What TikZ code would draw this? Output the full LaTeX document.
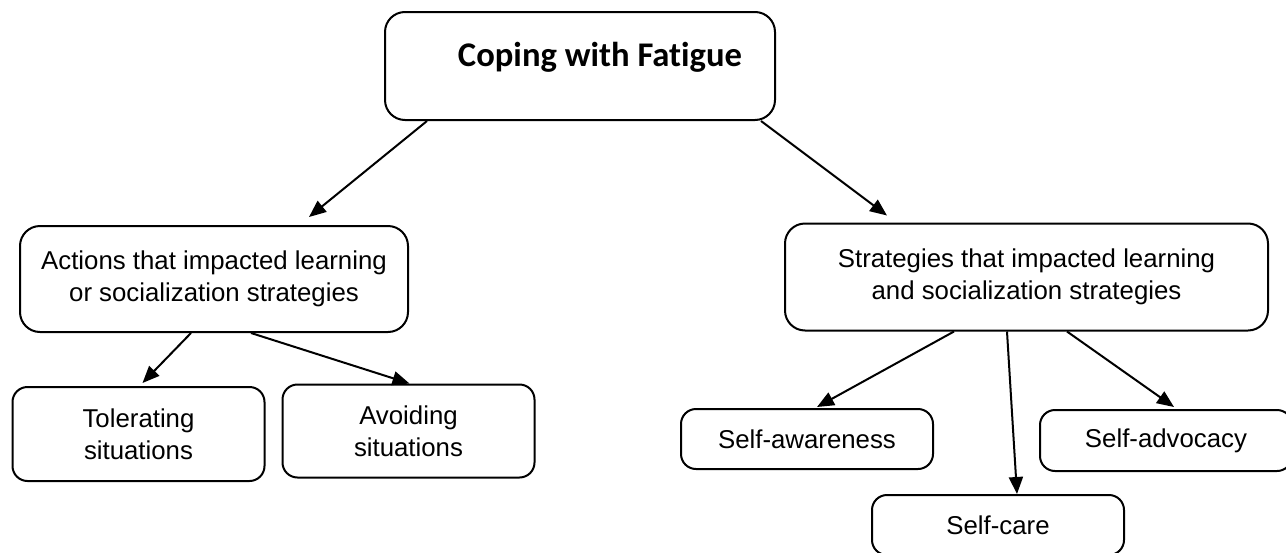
\documentclass[tikz,border=0pt]{standalone}
\usepackage{fontspec}
\setmainfont{Liberation Sans}
\newfontfamily\titlefamily[Ligatures={NoCommon}]{Carlito}
\usetikzlibrary{arrows.meta}
\begin{document}
\begin{tikzpicture}[x=1pt,y=-1pt,
  box/.style={draw=black, line width=2pt, rounded corners=20pt, align=center,
    font=\fontsize{25.8}{32}\selectfont, inner sep=0pt},
  smallbox/.style={box, rounded corners=15pt, minimum width=252pt},
  titletext/.style={font=\titlefamily\bfseries\fontsize{34.6}{40}\selectfont},
  arr/.style={line width=2pt, -{Triangle[length=17pt,width=14pt]}}]
\useasboundingbox (0,0) rectangle (1286,552);

% top level
\node[box, minimum width=390pt, minimum height=108pt,
  label={[titletext, xshift=20pt, yshift=9pt]center:Coping with Fatigue}] (top) at (580,66) {};

% second level
\node[box, minimum width=388pt, minimum height=106pt] (actions) at (214,279)
  {Actions that impacted learning\\or socialization strategies};
\node[box, minimum width=483pt, minimum height=107pt] (strategies) at (1026.5,277)
  {Strategies that impacted learning\\and socialization strategies};

% leaves under the actions
\node[smallbox, minimum height=94pt] (tol) at (138.5,434)
  {Tolerating\\situations};
\node[smallbox, minimum height=93pt] (avo) at (408.5,431)
  {Avoiding\\situations};

% leaves under the strategies
\node[smallbox, minimum height=60pt] (saw) at (807,439)
  {Self-awareness};
\node[smallbox, minimum height=61pt] (sad) at (1166,440.5)
  {Self-advocacy};
\node[smallbox, minimum height=60pt] (sca) at (998,525)
  {Self-care};

% connectors
\draw[arr] ([xshift=43pt]top.south west) -- ([xshift=290pt,yshift=8pt]actions.north west);
\draw[arr] ([xshift=-15pt]top.south east) -- ([xshift=103pt,yshift=7pt]strategies.north west);
\draw[arr] ([xshift=172pt]actions.south west) -- ([xshift=131pt,yshift=3pt]tol.north west);
\draw[arr] ([xshift=232pt]actions.south west) -- ([xshift=128pt]avo.north west);
\draw[arr] ([xshift=170pt]strategies.south west) -- ([xshift=137pt,yshift=1pt]saw.north west);
\draw[arr] ([xshift=223pt]strategies.south west) -- ([xshift=146pt]sca.north west);
\draw[arr] ([xshift=283pt]strategies.south west) -- ([xshift=135pt,yshift=2pt]sad.north west);
\end{tikzpicture}
\end{document}
